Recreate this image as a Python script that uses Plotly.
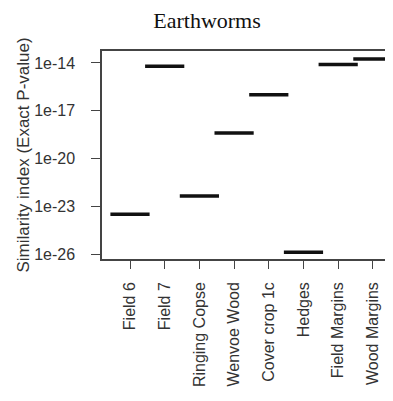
import plotly.graph_objects as go

sites = ["Field 6", "Field 7", "Ringing Copse", "Wenvoe Wood",
         "Cover crop 1c", "Hedges", "Field Margins", "Wood Margins"]
p_values = [3.2e-24, 6.3e-15, 4.5e-23, 4.0e-19,
            1.0e-16, 1.3e-26, 8.0e-15, 1.8e-14]
tick_vals = [1e-14, 1e-17, 1e-20, 1e-23, 1e-26]
tick_text = ["1e-14", "1e-17", "1e-20", "1e-23", "1e-26"]

sans = "Arial, Liberation Sans, sans-serif"

fig = go.Figure()
fig.add_trace(go.Scatter(
    x=sites, y=p_values, mode="markers",
    marker=dict(symbol="line-ew", size=28,
                line=dict(color="#111111", width=3.5)),
    showlegend=False, hoverinfo="x+y",
))

# page body has an 8px margin, so the figure is sized/offset to fit the window
fig.update_layout(
    width=385, height=393,
    margin=dict(l=94, r=0, t=43, b=142, autoexpand=False),
    paper_bgcolor="white", plot_bgcolor="white",
    title=dict(text="Earthworms", x=0.517, xanchor="center", y=0.969, yanchor="middle",
               font=dict(family="Times New Roman, Liberation Serif, serif", size=22, color="#111111")),
    font=dict(family=sans, size=16, color="#333333"),
)
fig.update_xaxes(
    type="category", range=[-0.807, 7.58], automargin=False,
    showgrid=False, zeroline=False,
    showline=True, linecolor="#444444", linewidth=1.5, mirror=True,
    ticks="outside", ticklen=8, tickwidth=1.2, tickcolor="#444444",
    tickangle=-90, ticklabelstandoff=7,
    tickfont=dict(family=sans, size=16, color="#333333"),
)
fig.update_yaxes(
    type="log", range=[-26.31, -13.25], automargin=False,
    tickvals=tick_vals, ticktext=tick_text,
    showgrid=False, zeroline=False,
    showline=True, linecolor="#444444", linewidth=1.5,
    ticks="outside", ticklen=9, tickwidth=1.2, tickcolor="#444444",
    ticklabelstandoff=13,
    tickfont=dict(family=sans, size=16, color="#333333"),
    title=dict(text="Similarity index (Exact P-value)", standoff=0,
               font=dict(family=sans, size=17, color="#333333")),
)

fig.write_html("out.html")
